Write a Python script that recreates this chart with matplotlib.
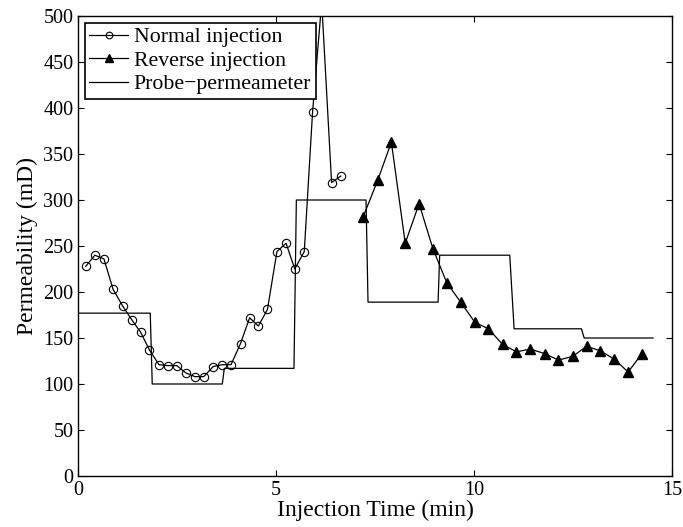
import numpy as np
import matplotlib
matplotlib.use("Agg")
import matplotlib.pyplot as plt

plt.rcParams['font.family'] = ['Liberation Serif', 'DejaVu Serif']

# normal injection (min, mD)
t_norm = [0.19, 0.42, 0.65, 0.88, 1.12, 1.35, 1.58, 1.80, 2.04, 2.26, 2.49, 2.72,
          2.95, 3.17, 3.41, 3.64, 3.86, 4.10, 4.33, 4.55, 4.78, 5.02, 5.25, 5.47,
          5.71, 5.92, 6.15, 6.40, 6.63]
k_norm = [228, 240, 236, 203, 185, 170, 156, 137, 121, 120, 120, 112,
          108, 108, 119, 121, 121, 144, 172, 163, 181, 244, 253, 225,
          244, 396, 515, 319, 326]

# reverse injection
t_rev = [7.20, 7.57, 7.91, 8.26, 8.61, 8.96, 9.31, 9.66, 10.02, 10.36, 10.72,
         11.07, 11.42, 11.78, 12.13, 12.49, 12.84, 13.19, 13.54, 13.89, 14.24]
k_rev = [282, 322, 363, 253, 296, 247, 210, 189, 167, 160, 143,
         135, 138, 133, 126, 130, 141, 136, 127, 113, 133]

# probe-permeameter (step profile)
t_probe = [0, 1.82, 1.87, 3.64, 3.69, 5.45, 5.51, 7.27, 7.32, 9.09, 9.13,
           10.90, 11.01, 12.71, 12.78, 14.52]
k_probe = [177, 177, 100, 100, 117, 117, 300, 300, 189, 189, 240,
           240, 160, 160, 150, 150]

fig = plt.figure(figsize=(6.83, 5.27), dpi=100)
ax = fig.add_axes([0.1145, 0.0968, 0.8695, 0.8728])

ax.plot(t_norm, k_norm, 'k-', marker='o', mfc='none', mec='k', ms=6, mew=0.8,
        lw=0.9, label='Normal injection')
ax.plot(t_rev, k_rev, 'k-', marker='^', mfc='k', mec='k', ms=7,
        lw=0.9, label='Reverse injection')
ax.plot(t_probe, k_probe, 'k-', lw=0.9, label='Probe\u2212permeameter')

ax.set_xlim(0, 15)
ax.set_ylim(0, 500)
ax.set_xticks([0, 5, 10, 15])
ax.set_yticks(np.arange(0, 501, 50))
ax.tick_params(direction='in', top=True, right=True, length=4, width=0.8,
               labelsize=14.5)
for s in ax.spines.values():
    s.set_linewidth(1.0)

ax.set_xlabel('Injection Time (min)', fontsize=17, labelpad=0)
ax.set_ylabel('Permeability (mD)', fontsize=17, labelpad=4)

leg = ax.legend(loc='upper left', fontsize=15.7, frameon=True, fancybox=False,
                edgecolor='k', framealpha=1, borderpad=0.2, labelspacing=0.15,
                handlelength=1.8, handletextpad=0.25, borderaxespad=0.3,
                markerscale=0.8)
leg.get_frame().set_linewidth(1.2)

fig.savefig('out.png', dpi=100)
